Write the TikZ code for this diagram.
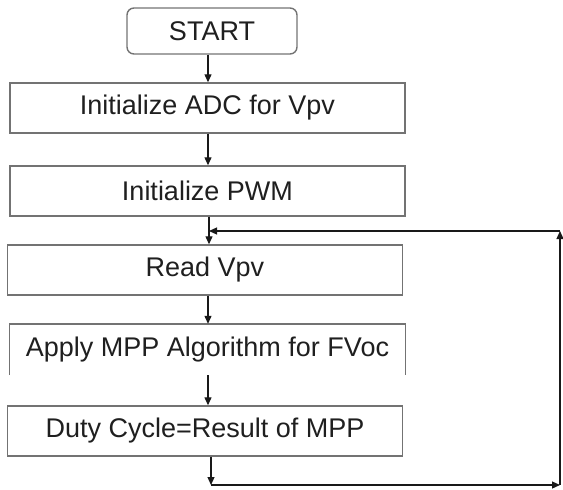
\documentclass[tikz,border=0pt]{standalone}
\usepackage{fontspec}
\setmainfont{Liberation Sans}
\usetikzlibrary{arrows.meta}
\begin{document}
\begin{tikzpicture}[x=1pt,y=-1pt,
  box/.style={draw=black!55,line width=1.4pt,minimum height=50pt,minimum width=395pt,inner sep=0pt,text=black!88,font=\fontsize{27}{30}\selectfont},
  arr/.style={draw=black!90,line width=1.2pt,-{Triangle[length=8pt,width=7pt]}},
  ln/.style={draw=black!90,line width=1.2pt}]
\useasboundingbox (0,0) rectangle (563,490);
\node[box,rounded corners=7pt,minimum width=170pt,minimum height=46pt] (start) at (212,31) {START};
\node[box] (b1) at (207.5,108) {Initialize ADC for Vpv};
\node[box] (b2) at (207.5,191) {Initialize PWM};
\node[box] (b3) at (205,270) {Read Vpv};
\node[box,draw=none] (b4) at (207.5,349.5) {Apply MPP Algorithm for FVoc};
\draw[draw=black!55,line width=1.4pt] (b4.south west) -- (b4.north west) -- (b4.north east) -- (b4.south east);
\node[box] (b5) at (205,431) {Duty Cycle=Result of MPP};
\coordinate (cx) at (208,0);
\coordinate (j) at (209,231);
\coordinate (bl) at (211,485);
\coordinate (br) at (560,485);
\coordinate (tr) at (560,231);
\draw[arr] (start.south -| cx) -- (b1.north -| cx);
\draw[arr] (b1.south -| cx) -- (b2.north -| cx);
\draw[arr] (b2.south -| j) -- (b3.north -| j);
\draw[arr] (b3.south -| cx) -- (b4.north -| cx);
\draw[arr] (b4.south -| cx) -- (b5.north -| cx);
\draw[arr] (b5.south -| bl) -- (bl);
\draw[arr] (bl) -- (br);
\draw[arr] (br) -- (tr);
\draw[arr] (tr) -- (j);
\end{tikzpicture}
\end{document}
